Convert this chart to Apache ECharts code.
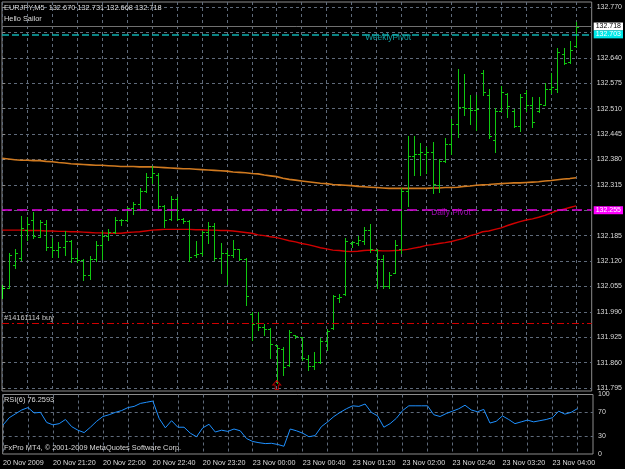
<!DOCTYPE html>
<html><head><meta charset="utf-8">
<script src="https://cdn.jsdelivr.net/npm/echarts@6/dist/echarts.min.js"></script>
<style>html,body{margin:0;padding:0;background:#000}#c{width:625px;height:469px}</style>
</head><body><div id="c"></div>
<script>
const symbolName = 'EURJPY,M5';
const subTitle = 'Hello Sailor';
const footer = 'FxPro MT4, \u00a9 2001-2009 MetaQuotes Software Corp.';
const timeLabels = ['20 Nov 2009','20 Nov 21:20','20 Nov 22:00','20 Nov 22:40','20 Nov 23:20','23 Nov 00:00','23 Nov 00:40','23 Nov 01:20','23 Nov 02:00','23 Nov 02:40','23 Nov 03:20','23 Nov 04:00'];
const timeLabelIdx = [0,8,16,24,32,40,48,56,64,72,80,88];
const gridIdx = [0,4,8,12,16,20,24,28,32,36,40,44,48,52,56,60,64,68,72,76,80,84,88,92];
const priceTicks = [131.795,131.860,131.925,131.990,132.055,132.120,132.185,132.250,132.315,132.380,132.445,132.510,132.575,132.640,132.705,132.770];
const priceLabels = [131.795,131.860,131.925,131.990,132.055,132.120,132.185,132.315,132.380,132.445,132.510,132.575,132.640,132.770];
const rsiLabels = [0,30,70,100];
const rsiLevels = [30,70];

const opens = [
132.030,132.052,132.110,132.128,132.200,132.225,132.182,132.215,132.156,132.148,
132.155,132.172,132.128,132.122,132.085,132.125,132.160,132.185,132.195,132.225,
132.226,132.255,132.265,132.300,132.335,132.340,132.260,132.228,132.280,132.228,
132.222,132.135,132.140,132.195,132.210,132.128,132.140,132.135,132.150,132.125,
131.985,131.962,131.950,131.945,131.905,131.895,131.855,131.930,131.925,131.870,
131.852,131.862,131.915,131.948,132.025,132.035,132.165,132.165,132.172,132.200,
132.148,132.125,132.055,132.090,132.150,132.300,132.390,132.395,132.395,132.400,
132.315,132.375,132.420,132.470,132.515,132.511,132.506,132.600,132.545,132.430,
132.505,132.548,132.505,132.465,132.550,132.520,132.505,132.520,132.560,132.560,
132.650,132.630,132.670];
const highs = [
132.059,132.140,132.152,132.235,132.233,132.246,132.226,132.225,132.179,132.170,
132.196,132.174,132.148,132.124,132.133,132.171,132.196,132.201,132.233,132.228,
132.259,132.271,132.306,132.346,132.363,132.345,132.263,132.286,132.283,132.231,
132.225,132.172,132.198,132.221,132.217,132.167,132.148,132.174,132.152,132.127,
131.990,131.990,131.959,131.949,131.905,131.901,131.943,131.932,131.925,131.879,
131.888,131.922,131.945,132.033,132.035,132.178,132.172,132.184,132.208,132.214,
132.152,132.135,132.093,132.174,132.306,132.440,132.440,132.421,132.412,132.425,
132.380,132.434,132.483,132.611,132.599,132.545,132.545,132.609,132.559,132.511,
132.568,132.549,132.508,132.547,132.558,132.541,132.539,132.575,132.602,132.664,
132.664,132.684,132.731];
const lows = [
132.025,132.050,132.101,132.123,132.174,132.178,132.182,132.148,132.131,132.131,
132.136,132.118,132.118,132.071,132.073,132.121,132.124,132.175,132.192,132.213,
132.223,132.240,132.255,132.297,132.319,132.255,132.206,132.225,132.225,132.218,
132.121,132.130,132.135,132.165,132.122,132.090,132.061,132.131,132.122,132.007,
131.918,131.943,131.931,131.871,131.808,131.829,131.852,131.922,131.867,131.841,
131.845,131.860,131.892,131.945,132.016,132.033,132.157,132.161,132.164,132.144,
132.050,132.050,132.050,132.089,132.140,132.260,132.340,132.340,132.346,132.293,
132.297,132.374,132.394,132.437,132.494,132.471,132.455,132.545,132.434,132.398,
132.504,132.489,132.462,132.453,132.505,132.462,132.502,132.519,132.549,132.553,
132.624,132.627,132.668];
const closes = [
132.052,132.135,132.140,132.205,132.215,132.185,132.220,132.156,132.148,132.155,
132.172,132.128,132.122,132.085,132.125,132.160,132.185,132.195,132.225,132.226,
132.255,132.265,132.300,132.335,132.345,132.260,132.225,132.280,132.228,132.222,
132.130,132.138,132.195,132.210,132.128,132.140,132.135,132.150,132.125,132.030,
131.960,131.950,131.945,131.908,131.897,131.850,131.938,131.928,131.872,131.852,
131.862,131.915,131.940,132.030,132.028,132.172,132.168,132.175,132.200,132.150,
132.125,132.055,132.085,132.160,132.300,132.390,132.395,132.398,132.400,132.317,
132.375,132.420,132.470,132.515,132.511,132.506,132.508,132.553,132.440,132.505,
132.553,132.517,132.465,132.540,132.520,132.475,132.522,132.559,132.565,132.655,
132.626,132.660,132.718];
const maSlow = [
132.383,132.381,132.379,132.378,132.378,132.377,132.377,132.375,132.374,132.372,
132.371,132.369,132.368,132.367,132.366,132.365,132.365,132.364,132.363,132.362,
132.362,132.362,132.361,132.361,132.361,132.360,132.359,132.358,132.357,132.356,
132.356,132.355,132.354,132.353,132.352,132.351,132.350,132.348,132.347,132.346,
132.344,132.343,132.340,132.338,132.336,132.332,132.329,132.327,132.325,132.323,
132.321,132.319,132.318,132.316,132.315,132.314,132.313,132.311,132.310,132.309,
132.308,132.307,132.306,132.306,132.306,132.306,132.306,132.306,132.306,132.307,
132.307,132.308,132.308,132.309,132.311,132.312,132.314,132.315,132.316,132.317,
132.318,132.319,132.320,132.320,132.321,132.322,132.323,132.325,132.326,132.328,
132.330,132.331,132.333];
const maFast = [
132.199,132.199,132.199,132.199,132.198,132.198,132.198,132.197,132.197,132.196,
132.196,132.195,132.195,132.194,132.193,132.192,132.192,132.191,132.191,132.191,
132.193,132.194,132.195,132.197,132.199,132.200,132.201,132.201,132.201,132.201,
132.201,132.200,132.200,132.199,132.199,132.198,132.198,132.197,132.195,132.193,
132.191,132.187,132.185,132.182,132.180,132.176,132.172,132.169,132.165,132.162,
132.158,132.154,132.151,132.148,132.147,132.145,132.144,132.145,132.147,132.148,
132.147,132.146,132.146,132.147,132.148,132.150,132.153,132.156,132.160,132.162,
132.165,132.167,132.170,132.174,132.178,132.185,132.189,132.195,132.197,132.201,
132.205,132.211,132.216,132.221,132.225,132.228,132.232,132.237,132.243,132.249,
132.253,132.257,132.261];
const rsi = [
48.7,61,67.5,74,78,69,70,53,49,51,
58,46,40,36,45,55,63,66,70,73,
78,80,85,87,89,60,44,56,45,45,
35,29,44,50,37,40,38,42,39,26,
21,19,17.5,18,16,13,42,39,35,29,
31,46,54,63,70,76,81,80,84,70,
64,45,51,60,73,81,81,81,81,66,
63,68,72,76,82,74,71,75,52,55,
64,58,51,54,57,54,56,58,61,72,
67,70,76.2593];

const weeklyPivot = 132.703, dailyPivot = 132.255, bidPrice = 132.718, orderPrice = 131.958;
const orderLabel = '#14161114 buy';
const arrowBar = 44, arrowPrice = 131.803;

const FONT = 'Liberation Sans';
const TXT = '#dcdcdc';
const GRIDC = '#5f6a7a';
const BAR = '#10c810';
const last = opens.length - 1;
const ohlc = opens.map((o, i) => [i, o, highs[i], lows[i], closes[i]]);
const titleText = symbolName + '  ' + [opens[last], highs[last], lows[last], closes[last]].map(v => v.toFixed(3)).join(' ');

const chart = echarts.init(document.getElementById('c'), null, {renderer: 'canvas'});
const split = {show: true, lineStyle: {color: GRIDC, type: [3, 3], width: 1}};
const tag = (bg, fg) => ({show: true, position: 'end', distance: 2, backgroundColor: bg, color: fg, fontSize: 7, fontFamily: FONT, padding: [1, 2, 0, 2]});

chart.setOption({
  animation: false,
  backgroundColor: '#000000',
  title: [
    {text: titleText, left: 4, top: 4, padding: 0, textStyle: {color: TXT, fontSize: 7.4, fontWeight: 'normal', fontFamily: FONT}},
    {text: subTitle, left: 4, top: 15, padding: 0, textStyle: {color: TXT, fontSize: 7.4, fontWeight: 'normal', fontFamily: FONT}},
    {text: 'RSI(6) ' + rsi[last].toFixed(4), left: 4, top: 396, padding: 0, textStyle: {color: TXT, fontSize: 7.4, fontWeight: 'normal', fontFamily: FONT}},
    {text: footer, left: 4, top: 444.5, padding: 0, textStyle: {color: TXT, fontSize: 7.4, fontWeight: 'normal', fontFamily: FONT}}
  ],
  grid: [
    {left: 2, right: 32, top: 2, height: 389, show: true, borderColor: '#8c8c8c', borderWidth: 1, backgroundColor: 'transparent'},
    {left: 2, right: 32, top: 394.5, height: 59.5, show: true, borderColor: '#8c8c8c', borderWidth: 1, backgroundColor: 'transparent'}
  ],
  xAxis: [
    {type: 'value', gridIndex: 0, min: -0.05, max: 94.5, axisLine: {show: false}, axisLabel: {show: false},
     axisTick: {show: false, customValues: gridIdx}, splitLine: split},
    {type: 'value', gridIndex: 1, min: -0.05, max: 94.5, axisLine: {show: false},
     axisTick: {show: false, customValues: gridIdx},
     axisLabel: {customValues: timeLabelIdx, formatter: v => timeLabels[Math.round(v / 8)], align: 'left', color: TXT, fontSize: 7.2, fontFamily: FONT, margin: 6},
     splitLine: split}
  ],
  yAxis: [
    {type: 'value', gridIndex: 0, position: 'right', min: 131.7875, max: 132.7828, axisLine: {show: false},
     axisTick: {show: true, customValues: priceTicks, length: 3, lineStyle: {color: '#8c8c8c'}},
     axisLabel: {customValues: priceLabels, formatter: v => v.toFixed(3), color: TXT, fontSize: 7, fontFamily: FONT, margin: 5},
     splitLine: split},
    {type: 'value', gridIndex: 1, position: 'right', min: 0, max: 100, axisLine: {show: false},
     axisTick: {show: false, customValues: rsiLevels},
     axisLabel: {customValues: rsiLabels, formatter: v => String(v), color: TXT, fontSize: 7, fontFamily: FONT, margin: 5},
     splitLine: split}
  ],
  series: [
    {
      type: 'line', name: 'MA slow', xAxisIndex: 0, yAxisIndex: 0, data: maSlow.map((v, i) => [i, v]),
      showSymbol: false, symbol: 'none', lineStyle: {color: '#d07a20', width: 1.6}, z: 2,
      markLine: {
        silent: true, symbol: ['none', 'none'], animation: false,
        data: [
          {yAxis: orderPrice, lineStyle: {color: '#d00000', type: [7, 3, 2, 3], width: 1},
           label: {show: true, position: 'insideStartTop', formatter: orderLabel, color: '#c8c8c8', fontSize: 7.4, fontFamily: FONT, distance: 2}},
          {yAxis: dailyPivot, lineStyle: {color: '#e000e0', type: [10, 5], width: 1.5}, label: Object.assign(tag('#ff00ff', '#ffffff'), {formatter: dailyPivot.toFixed(3)})},
          {yAxis: bidPrice, lineStyle: {color: '#707070', type: 'solid', width: 1}, label: Object.assign(tag('#ffffff', '#000000'), {formatter: bidPrice.toFixed(3)})},
          {yAxis: weeklyPivot, lineStyle: {color: '#10b0b0', type: [7, 3], width: 1.5}, label: Object.assign(tag('#00e8e8', '#ffffff'), {formatter: weeklyPivot.toFixed(3)})}
        ]
      }
    },
    {type: 'line', name: 'MA fast', xAxisIndex: 0, yAxisIndex: 0, data: maFast.map((v, i) => [i, v]),
     showSymbol: false, symbol: 'none', lineStyle: {color: '#d00000', width: 1.4}, z: 2},
    {
      type: 'custom', name: 'EURJPY', xAxisIndex: 0, yAxisIndex: 0, data: ohlc, clip: true, z: 3,
      encode: {x: 0, y: [1, 2, 3, 4]},
      renderItem: function (params, api) {
        const i = api.value(0);
        const pO = api.coord([i, api.value(1)]);
        const pH = api.coord([i, api.value(2)]);
        const pL = api.coord([i, api.value(3)]);
        const pC = api.coord([i, api.value(4)]);
        const x = Math.round(pO[0]) + 0.5;
        const yo = Math.round(pO[1]) + 0.5, yc = Math.round(pC[1]) + 0.5;
        const st = {stroke: i === 0 ? '#30ff30' : BAR, lineWidth: 1};
        return {type: 'group', children: [
          {type: 'line', shape: {x1: x, y1: Math.round(pH[1]), x2: x, y2: Math.round(pL[1]) + 1}, style: st},
          {type: 'line', shape: {x1: x - 2.5, y1: yo, x2: x, y2: yo}, style: st},
          {type: 'line', shape: {x1: x, y1: yc, x2: x + 2.5, y2: yc}, style: st}
        ]};
      }
    },
    {type: 'scatter', xAxisIndex: 0, yAxisIndex: 0, z: 4, silent: true,
     symbol: 'path://M5,0 L10,5 L7,5 L7,10 L3,10 L3,5 L0,5 Z', symbolSize: [8, 9],
     itemStyle: {color: 'rgba(0,0,0,0)', borderColor: '#e00000', borderWidth: 1},
     data: [[arrowBar, arrowPrice]]},
    {type: 'scatter', xAxisIndex: 0, yAxisIndex: 0, z: 4, silent: true, symbolSize: 1,
     itemStyle: {color: 'rgba(0,0,0,0)'},
     label: {show: true, position: 'inside', formatter: p => p.name, fontSize: 8.4, fontFamily: FONT},
     data: [
       {name: 'WeeklyPivot', value: [61.86, 132.6907], label: {color: '#18c4c8'}},
       {name: 'Daily Pivot', value: [71.94, 132.2429], label: {color: '#c010d8'}}
     ]},
    {type: 'line', name: 'RSI(6)', xAxisIndex: 1, yAxisIndex: 1, data: rsi.map((v, i) => [i, v]),
     showSymbol: false, symbol: 'none', lineStyle: {color: '#1e90ff', width: 1}}
  ]
});
</script></body></html>
